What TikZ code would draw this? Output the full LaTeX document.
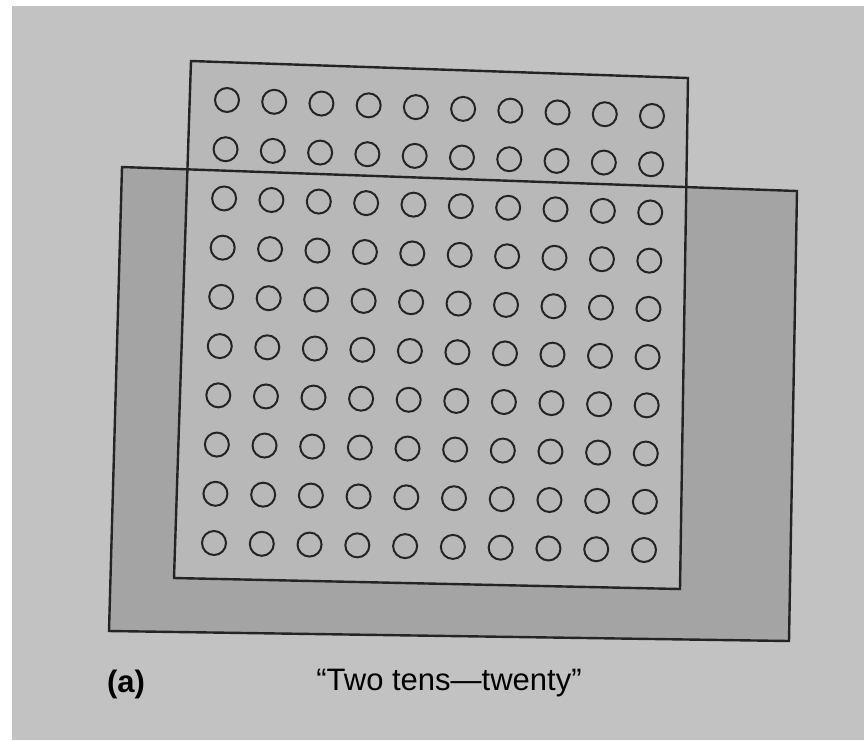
\documentclass[tikz,border=0pt]{standalone}
\usepackage{fontspec}
\setmainfont{Liberation Sans}
\usetikzlibrary{calc}
\definecolor{pagegray}{RGB}{194,194,194}
\definecolor{slabgray}{RGB}{164,164,164}
\definecolor{sheetgray}{RGB}{184,184,184}
\definecolor{inkgray}{RGB}{36,36,36}

\begin{document}
\begin{tikzpicture}[x=1pt, y=-1pt,
  edge/.style={draw=inkgray, line width=2.4pt, line join=miter},
  dot/.style={draw=inkgray, line width=2pt},
  caption/.style={font=\fontsize{31}{36}\selectfont, inner sep=0pt}
]
  \useasboundingbox (0,0) rectangle (864,740);
  \fill[white] (0,0) rectangle (864,740);
  \fill[pagegray] (12,6) rectangle (864,740);

  % shaded strip behind
  \coordinate (g1) at (122,167);
  \coordinate (g2) at (797,191);
  \coordinate (g3) at (789,641);
  \coordinate (g4) at (109,631);
  \fill[slabgray] (g1) -- (g2) -- (g3) -- (g4) -- cycle;

  % hundred sheet
  \coordinate (s1) at (191,61);
  \coordinate (s2) at (688,78);
  \coordinate (s3) at (680,589);
  \coordinate (s4) at (174,578);
  \fill[sheetgray] (s1) -- (s2) -- (s3) -- (s4) -- cycle;

  \draw[edge] (g1) -- (g2) -- (g3) -- (g4) -- cycle;
  \draw[edge] (s1) -- (s2) -- (s3) -- (s4) -- cycle;

  % centres of the corner dots
  \coordinate (c1) at (227,100);
  \coordinate (c2) at (652,116);
  \coordinate (c3) at (644,550);
  \coordinate (c4) at (214,543);

  \foreach \i in {0,...,9} {
    \coordinate (top) at ($(c1)!\i/9!(c2)$);
    \coordinate (bot) at ($(c4)!\i/9!(c3)$);
    \foreach \j in {0,...,9}
      \draw[dot] ($(top)!\j/9!(bot)$) circle (12pt);
  }

  \node[caption, font=\fontsize{31}{36}\selectfont\bfseries] (tag) at (126,684) {(a)};
  \node[caption] (title) at (449,683) {“Two tens—twenty”};
\end{tikzpicture}
\end{document}
